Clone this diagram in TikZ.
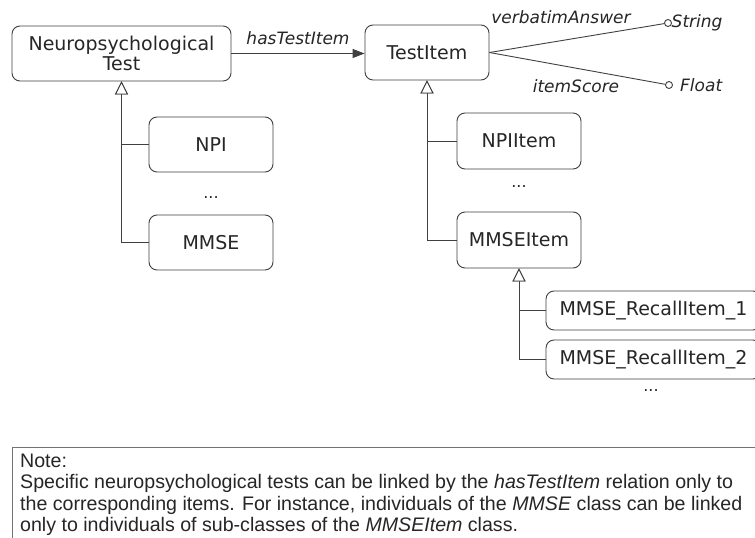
\documentclass[tikz,border=0pt]{standalone}
\usepackage{fontspec}
\setmainfont{DejaVu Sans}
\newfontfamily\notefont{Liberation Sans}
\usetikzlibrary{arrows.meta}
\colorlet{ln}{black!75}
\colorlet{tx}{black!85}
\tikzset{
  cls/.style={draw=ln, rounded corners=8pt, line width=0.9pt, minimum width=124pt, minimum height=55pt,
    inner sep=0pt, text=tx, font=\fontsize{19}{22}\selectfont, align=center},
  gen/.style={draw=ln, line width=0.9pt, -{Triangle[open, length=13pt, width=13pt, fill=white]}},
  rel/.style={draw=ln, line width=0.9pt},
  lbl/.style={text=tx, font=\fontsize{17}{20}\selectfont\itshape, inner sep=0pt},
  dots/.style={text=tx, font=\fontsize{16}{20}\selectfont, inner sep=0pt},
  dt/.style={circle, draw=ln, line width=0.9pt, fill=white, inner sep=0pt, minimum size=7pt}
}
\begin{document}
\begin{tikzpicture}[x=1pt,y=-1pt]
\useasboundingbox (0,0) rectangle (755,538);
\clip (0,0) rectangle (755,538);
\fill[white] (0,0) rectangle (755,538);
% classes
\node[cls, minimum width=219pt] (nt) at (121.5,53.5) {Neuropsychological\\[-1.5pt]Test};
\node[cls] (ti) at (427,52.5) {TestItem};
\node[cls] (npi) at (211,144.5) {NPI};
\node[cls] (mmse) at (211,242.5) {MMSE};
\node[cls, minimum height=56pt] (npiitem) at (519,141) {NPIItem};
\node[cls, minimum height=56pt] (mmseitem) at (519,240) {MMSEItem};
\node[cls, minimum width=215pt, minimum height=39pt] (r1) at (653.5,310.5) {MMSE\_RecallItem\_1};
\node[cls, minimum width=215pt, minimum height=39pt] (r2) at (653.5,359.5) {MMSE\_RecallItem\_2};
% dots
\node[dots] (d1) at (211,198) {...};
\node[dots] (d2) at (519,187) {...};
\node[dots] (d3) at (651,391) {...};
% generalizations
\draw[gen] (npi.west) -| (nt.south);
\draw[gen] (mmse.west) -| (nt.south);
\draw[gen] (npiitem.west) -| (ti.south);
\draw[gen] (mmseitem.west) -| (ti.south);
\draw[gen] (r1.west) -| (mmseitem.south);
\draw[gen] (r2.west) -| (mmseitem.south);
% association
\draw[rel, -{Triangle[length=12pt, width=9pt]}] (nt.east) -- (nt.east -| ti.west)
  node[lbl, midway, above=8pt] (has) {hasTestItem};
% attributes
\node[dt] (sc) at (668,23) {};
\node[dt] (fc) at (669,85) {};
\draw[rel] (ti.east) -- (sc);
\draw[rel] (ti.east) -- (fc);
\node[lbl, anchor=west] (str) at (671.5,23) {String};
\node[lbl, anchor=west] (flt) at (680,85) {Float};
\node[lbl] (va) at (561,17) {verbatimAnswer};
\node[lbl] (is) at (576,86) {itemScore};
% note
\draw[draw=black!55, line width=0.9pt] (12,447) rectangle (800,600);
\node[anchor=north west, inner sep=0pt, align=left, text=tx,
  font=\notefont\fontsize{19.6}{21.3}\selectfont] (note) at (20,454)
  {Note:\\
   Specific neuropsychological tests can be linked by the \textit{hasTestItem} relation only to\\
   the corresponding items. For instance, individuals of the \textit{MMSE} class can be linked\\
   only to individuals of sub-classes of the \textit{MMSEItem} class.};
\end{tikzpicture}
\end{document}
